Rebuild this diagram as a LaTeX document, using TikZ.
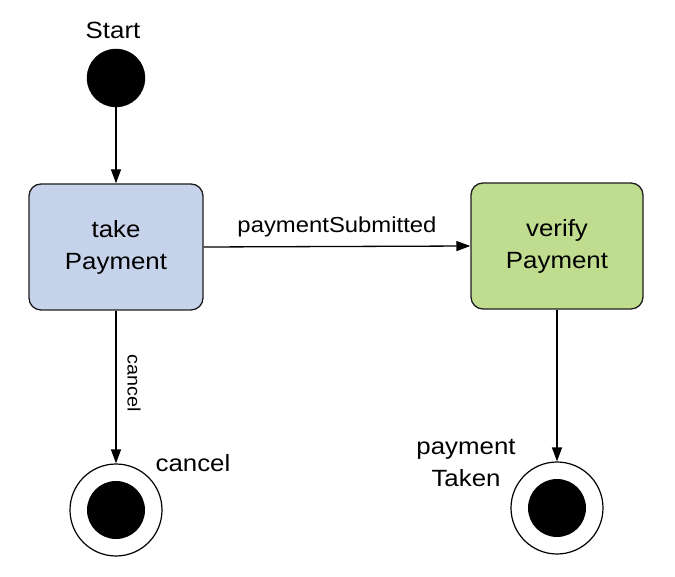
\documentclass[tikz,border=0pt]{standalone}
\usepackage{fontspec}
\setmainfont[FakeStretch=1.1]{Liberation Sans}
\usetikzlibrary{arrows.meta}
\definecolor{takefill}{RGB}{198,211,235}
\definecolor{verifyfill}{RGB}{192,220,143}
\definecolor{boxline}{RGB}{30,30,30}
\begin{document}
\begin{tikzpicture}[x=1pt,y=-1pt,
  statebox/.style={draw=boxline, line width=1.3pt, rounded corners=12pt, minimum width=174pt, minimum height=126pt, align=center, font=\fontsize{23.5}{32}\selectfont, inner sep=0pt},
  startdot/.style={circle, fill=black, draw=black, minimum size=58pt, inner sep=0pt},
  endring/.style={circle, draw=black, line width=1.2pt, fill=white, minimum size=92pt, inner sep=0pt},
  enddot/.style={circle, fill=black, minimum size=58pt, inner sep=0pt},
  lbl/.style={font=\fontsize{23.5}{32}\selectfont, align=center, inner sep=0pt},
  arr/.style={line width=1.3pt, -{Triangle[length=14pt,width=10pt]}}]
\useasboundingbox (0,0) rectangle (675,577);
\node[lbl] (startlbl) at (113,30) {Start};
\node[startdot] (start) at (116,78) {};
\node[statebox, fill=takefill] (take) at (116,247) {take\\Payment};
\node[statebox, fill=verifyfill, minimum width=172pt] (verify) at (557,246) {verify\\Payment};
\node[endring] (cend) at (116,510) {};
\node[enddot] (cenddot) at (116,510) {};
\node[lbl] (cendlbl) at (193,463) {cancel};
\node[endring] (pend) at (557,508) {};
\node[enddot] (penddot) at (557,508) {};
\node[lbl] (pendlbl) at (466,463) {payment\\Taken};
\draw[arr] (start) -- (take);
\draw[arr] (take.east) -- (verify.west) node[midway, above=9pt, font=\fontsize{21.7}{25}\selectfont, inner sep=0pt] (sublbl) {paymentSubmitted};
\draw[arr] (take) -- (cend);
\node[font=\fontsize{18}{22}\selectfont, rotate=-90, inner sep=0pt] (cancellbl) at (134,383) {cancel};
\draw[arr] (verify) -- (pend);
\end{tikzpicture}
\end{document}
